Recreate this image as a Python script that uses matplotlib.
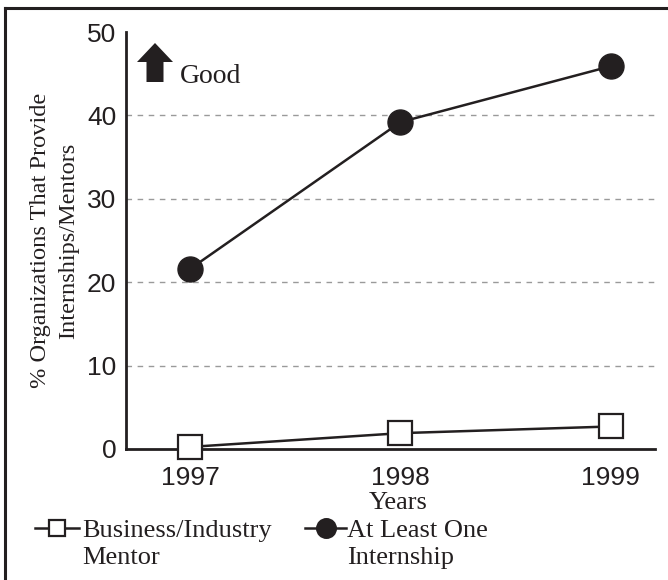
import matplotlib
matplotlib.use("Agg")
import matplotlib.pyplot as plt
from matplotlib.lines import Line2D
from matplotlib.patches import FancyArrow

years = [1997, 1998, 1999]
mentor = [0.25, 1.9, 2.7]
internship = [21.6, 39.2, 45.9]
yticks = [0, 10, 20, 30, 40, 50]
grid_vals = [10, 20, 30, 40]
series_labels = ["Business/Industry\nMentor", "At Least One\nInternship"]

SERIF = ["Liberation Serif", "DejaVu Serif"]
SANS = ["Liberation Sans", "DejaVu Sans"]
INK = "#231f20"

fig = plt.figure(figsize=(6.68, 5.8), dpi=100)
ax = fig.add_axes([126/668, 1-449/580, (655-126)/668, (449-32)/580])

for g in grid_vals:
    ax.axhline(g, color="#9a9a9a", lw=1.0, ls=(0, (4, 4)), zorder=1)

ax.plot(years, internship, color=INK, lw=1.8, marker="o", ms=18,
        mfc=INK, mec=INK, zorder=3, clip_on=False)
ax.plot(years, mentor, color=INK, lw=1.8, marker="s", ms=17,
        mfc="white", mec=INK, mew=1.6, zorder=3, clip_on=False)

ax.set_xlim(1996.695, 1999.21)
ax.set_ylim(0, 50)
ax.set_xticks(years)
ax.set_xticklabels([str(y) for y in years], fontfamily=SANS, fontsize=19)
ax.set_yticks(yticks)
ax.set_yticklabels([str(v) for v in yticks], fontfamily=SANS, fontsize=19)
ax.tick_params(length=0, colors=INK)
ax.tick_params(axis="x", pad=12)
ax.tick_params(axis="y", pad=7)
for s in ["top", "right"]:
    ax.spines[s].set_visible(False)
for s in ["left", "bottom"]:
    ax.spines[s].set_linewidth(2)
    ax.spines[s].set_color(INK)

ax.set_xlabel("Years", fontfamily=SERIF, fontsize=19, color=INK)
ax.xaxis.set_label_coords((398-126)/529, -0.102)
ax.set_ylabel("% Organizations That Provide\nInternships/Mentors", fontfamily=SERIF,
              fontsize=17.6, linespacing=1.45, color=INK)
ax.yaxis.set_label_coords(-0.089, 0.50)

# Good arrow
arr = FancyArrow(1.55, (580-82)/100, 0, 0.39, width=0.17, head_width=0.36,
                 head_length=0.19, length_includes_head=True,
                 transform=fig.dpi_scale_trans, color=INK, lw=0)
fig.add_artist(arr)
fig.text(180/668, 1-83/580, "Good", fontfamily=SERIF, fontsize=20,
         va="baseline", ha="left", color=INK)

# legend (handles aligned with the first text line)
def legend_entry(x0, x1, marker, ms, mfc, label, tx):
    yl = 1 - 528/580
    fig.add_artist(Line2D([x0/668, x1/668], [yl, yl], transform=fig.transFigure,
                          color=INK, lw=1.8))
    fig.add_artist(Line2D([(x0+x1)/2/668], [yl], transform=fig.transFigure,
                          marker=marker, ms=ms, mfc=mfc, mec=INK, mew=1.6, ls="none"))
    fig.text(tx/668, 1-520/580, label, fontfamily=SERIF, fontsize=19,
             va="top", ha="left", linespacing=1.28, color=INK)

legend_entry(35, 79, "s", 11, "white", series_labels[0], 82)
legend_entry(305, 346, "o", 13.5, INK, series_labels[1], 347)

# border
fig.add_artist(Line2D([5/668, 5/668], [0, 1-8/580], transform=fig.transFigure,
                      color=INK, lw=2.2))
fig.add_artist(Line2D([5/668, 1], [1-8/580, 1-8/580], transform=fig.transFigure,
                      color=INK, lw=2.2))

fig.savefig("out.png", dpi=100)
